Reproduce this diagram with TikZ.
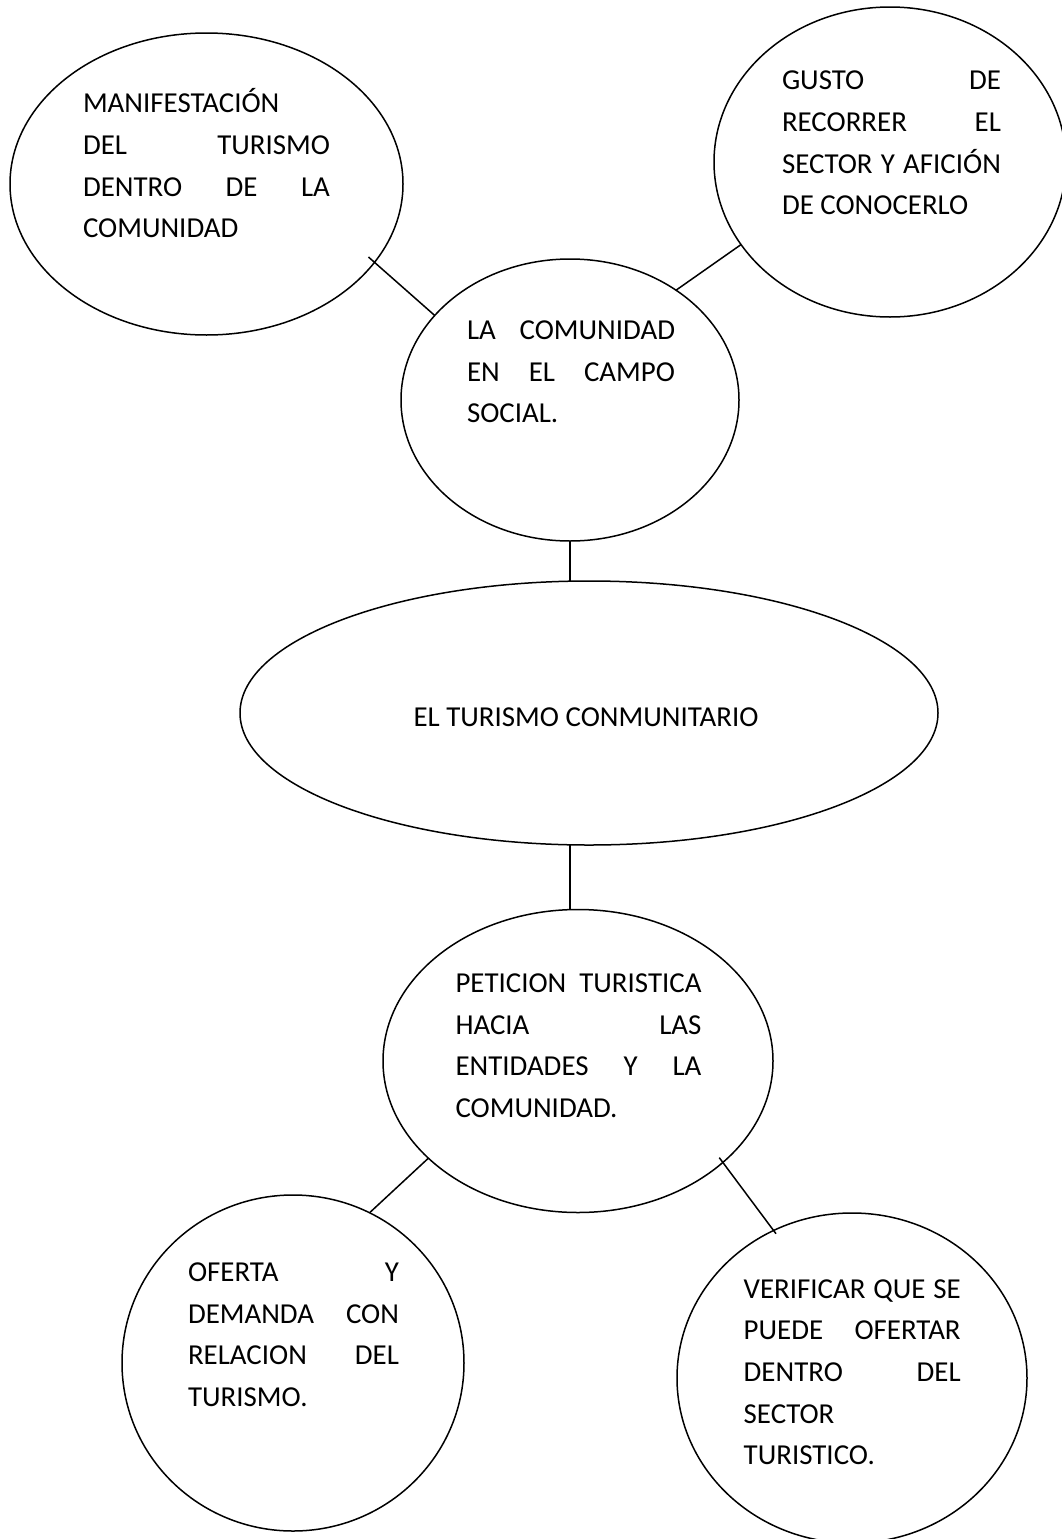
\documentclass[tikz,border=0pt]{standalone}
\usepackage{fontspec}
\setmainfont{Carlito}
\usetikzlibrary{shapes.geometric}
\newcommand\justln[1]{\hbox to \hsize{#1}}
\newcommand\leftln[1]{\hbox to \hsize{#1\hfil}}
\begin{document}
\begin{tikzpicture}[x=1pt,y=-1pt,
  ell/.style={draw, ellipse, line width=1.5pt, inner sep=0pt, outer sep=0pt},
  txt/.style={inner sep=0pt, outer sep=0pt, anchor=base west, font=\fontsize{28.9}{41.7}\selectfont},
  link/.style={line width=1.5pt}]
\fill[white] (0,0) rectangle (1062,1539);
\useasboundingbox (0,0) rectangle (1062,1539);

% ellipses
\node[ell, minimum width=393pt, minimum height=302pt] (e1) at (206.5,184) {};
\node[ell, minimum width=352pt, minimum height=310pt] (e2) at (890,162) {};
\node[ell, minimum width=338pt, minimum height=282pt] (e3) at (570,400) {};
\node[ell, minimum width=698pt, minimum height=264pt] (e4) at (589,713) {};
\node[ell, minimum width=390pt, minimum height=303pt] (e5) at (578,1061) {};
\node[ell, minimum width=342pt, minimum height=336pt] (e6) at (293,1363) {};
\node[ell, minimum width=350pt, minimum height=330pt] (e7) at (852,1378) {};

% texts
\node[txt] (t1) at (83,112.6) {\vtop{\hsize=247pt
  \leftln{MANIFESTACIÓN}\justln{DEL\hfill TURISMO}\justln{DENTRO\hfill DE\hfill LA}\leftln{COMUNIDAD}}};
\node[txt] (t2) at (782,89.6) {\vtop{\hsize=219pt
  \justln{GUSTO\hfill DE}\justln{RECORRER\hfill EL}\justln{SECTOR\hfill Y\hfill AFICIÓN}\leftln{DE CONOCERLO}}};
\node[txt] (t3) at (467,339.5) {\vtop{\hsize=208pt
  \justln{LA\hfill COMUNIDAD}\justln{EN\hfill EL\hfill CAMPO}\leftln{SOCIAL.}}};
\node[txt, anchor=base] (t4) at (586,726.3) {EL TURISMO CONMUNITARIO};
\node[txt] (t5) at (455.5,992.3) {\vtop{\hsize=246pt
  \justln{PETICION\hfill TURISTICA}\justln{HACIA\hfill LAS}\justln{ENTIDADES\hfill Y\hfill LA}\leftln{COMUNIDAD.}}};
\node[txt] (t6) at (188,1281.3) {\vtop{\hsize=211pt
  \justln{OFERTA\hfill Y}\justln{DEMANDA\hfill CON}\justln{RELACION\hfill DEL}\leftln{TURISMO.}}};
\node[txt] (t7) at (743.7,1298.1) {\vtop{\hsize=217pt
  \justln{VERIFICAR\hfill QUE\hfill SE}\justln{PUEDE\hfill OFERTAR}\justln{DENTRO\hfill DEL}\leftln{SECTOR}\leftln{TURISTICO.}}};

% connectors
\draw[link, shorten <=-8pt] (e1.-25.8) -- (e3.148);
\draw[link] (e3.46.2) -- (e2.209.7);
\draw[link] (e3.south) -- (e3.south |- e4.north);
\draw[link] (e4.south -| e3.south) -- (e5.north -| e3.south);
\draw[link] (e5.213.9) -- (e6.63.5);
\draw[link, shorten <=-6pt, shorten >=-4pt] (e5.-35.5) -- (e7.118.9);
\end{tikzpicture}
\end{document}
